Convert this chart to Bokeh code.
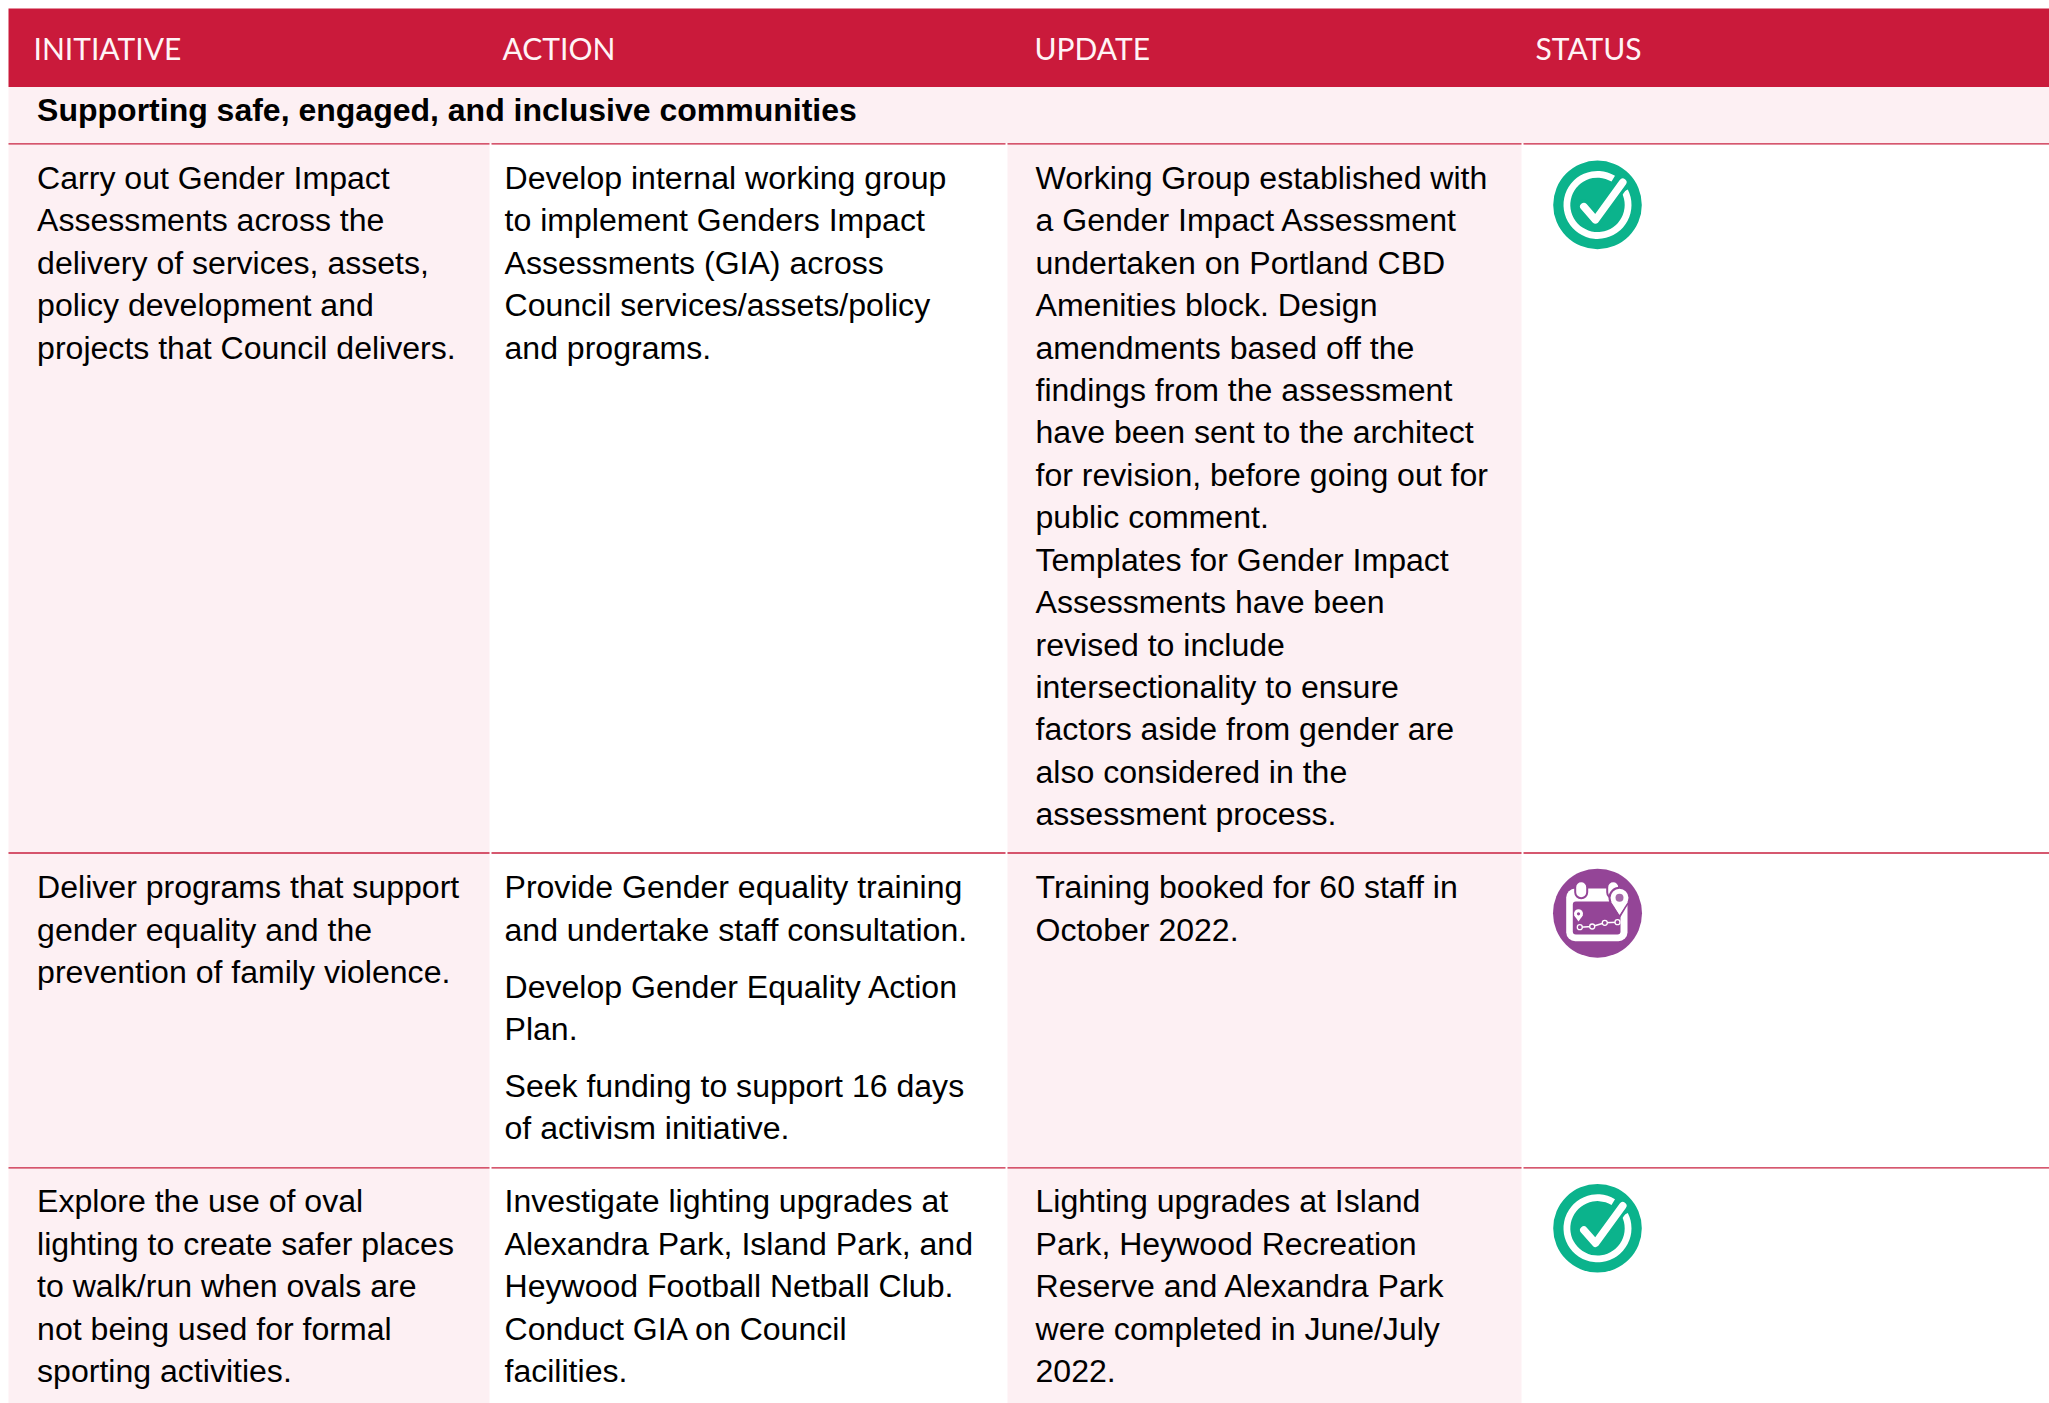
from bokeh.plotting import figure
from bokeh.models import Range1d
from bokeh.core.properties import value
from bokeh.embed import file_html
from bokeh.resources import INLINE

# ---- table content ----
headers = ["INITIATIVE", "ACTION", "UPDATE", "STATUS"]
section_title = "Supporting safe, engaged, and inclusive communities"

row1_initiative = ["Carry out Gender Impact", "Assessments across the", "delivery of services, assets,",
                   "policy development and", "projects that Council delivers."]
row1_action = ["Develop internal working group", "to implement Genders Impact",
               "Assessments (GIA) across", "Council services/assets/policy", "and programs."]
row1_update = ["Working Group established with", "a Gender Impact Assessment", "undertaken on Portland CBD",
               "Amenities block. Design", "amendments based off the", "findings from the assessment",
               "have been sent to the architect", "for revision, before going out for", "public comment.",
               "Templates for Gender Impact", "Assessments have been", "revised to include",
               "intersectionality to ensure", "factors aside from gender are", "also considered in the",
               "assessment process."]

row2_initiative = ["Deliver programs that support", "gender equality and the", "prevention of family violence."]
row2_action_p1 = ["Provide Gender equality training", "and undertake staff consultation."]
row2_action_p2 = ["Develop Gender Equality Action", "Plan."]
row2_action_p3 = ["Seek funding to support 16 days", "of activism initiative."]
row2_update = ["Training booked for 60 staff in", "October 2022."]

row3_initiative = ["Explore the use of oval", "lighting to create safer places", "to walk/run when ovals are",
                   "not being used for formal", "sporting activities."]
row3_action = ["Investigate lighting upgrades at", "Alexandra Park, Island Park, and",
               "Heywood Football Netball Club.", "Conduct GIA on Council", "facilities."]
row3_update = ["Lighting upgrades at Island", "Park, Heywood Recreation", "Reserve and Alexandra Park",
               "were completed in June/July", "2022."]

# ---- layout (page pixels) and styles ----
W, H = 2049, 1403
PINK, RED, RULE = "#FDF0F3", "#CA1A3B", "#C8203F"
GREEN, PURPLE = "#0BB38C", "#944597"
FONT = value("Liberation Sans")
SIZE = "32.05px"
PITCH = 42.43
DY = -10.6   # renderer's baseline correction
COL_L = [8, 491, 1007, 1523]
COL_R = [489, 1005, 1521, W]
HEAD_X = [33, 502, 1034, 1535]
TEXT_X = [36.6, 504, 1035]
RULE_Y = [143.3, 852.5, 1167.3]

p = figure(width=W, height=H, x_range=Range1d(0, W), y_range=Range1d(H, 0),
           output_backend="svg", toolbar_location=None, min_border=0)
p.axis.visible = False
p.grid.visible = False
p.outline_line_color = None
p.background_fill_color = "white"
p.border_fill_color = "white"

# fills
p.quad(left=[8], right=[W], top=[8], bottom=[86.5], fill_color=RED, line_color=None)
p.quad(left=[8], right=[W], top=[86.5], bottom=[143], fill_color=PINK, line_color=None)
p.quad(left=[8, 1007], right=[489, 1521], top=[143, 143], bottom=[H, H], fill_color=PINK, line_color=None)

# rules
for y in RULE_Y:
    p.segment(x0=COL_L, x1=COL_R, y0=[y] * 4, y1=[y] * 4, line_color=RULE, line_width=1.3)


def lines(strs, x, y0, pitch=PITCH):
    ys = [y0 + DY + i * pitch for i in range(len(strs))]
    p.text(x=[x] * len(strs), y=ys, text=strs, text_font=FONT, text_font_size=SIZE,
           text_color="#000000", text_baseline="alphabetic", text_align="left")


# header
p.text(x=HEAD_X, y=[58.5 + DY] * 4, text=headers, text_font=value("Lato"), text_font_size="30px",
       text_color="#FFF4F6", text_baseline="alphabetic", text_align="left")
# section
p.text(x=[36.6], y=[120 + DY], text=[section_title], text_font=FONT, text_font_size="32px",
       text_font_style="bold", text_color="#000000", text_baseline="alphabetic")

# row 1
lines(row1_initiative, TEXT_X[0], 188)
lines(row1_action, TEXT_X[1], 188)
lines(row1_update, TEXT_X[2], 188)
# row 2
lines(row2_initiative, TEXT_X[0], 897.3)
lines(row2_action_p1, TEXT_X[1], 897.3)
lines(row2_action_p2, TEXT_X[1], 996.7)
lines(row2_action_p3, TEXT_X[1], 1096)
lines(row2_update, TEXT_X[2], 897.3)
# row 3
lines(row3_initiative, TEXT_X[0], 1211.3, 42.55)
lines(row3_action, TEXT_X[1], 1211.3, 42.55)
lines(row3_update, TEXT_X[2], 1211.3, 42.55)


def check_icon(cx, cy):
    p.circle(x=[cx], y=[cy], radius=44.3, fill_color=GREEN, line_color=None)
    p.annular_wedge(x=[cx], y=[cy], inner_radius=27.2, outer_radius=34,
                    start_angle=0.47, end_angle=1.03, direction="clock",
                    fill_color="white", line_color=None)
    p.line(x=[cx - 13.7, cx - 2, cx + 25.3], y=[cy + 1.7, cy + 15, cy - 22.6], line_color=GREEN,
           line_width=14, line_cap="round", line_join="round")
    p.line(x=[cx - 13.7, cx - 2, cx + 25.3], y=[cy + 1.7, cy + 15, cy - 22.6], line_color="white",
           line_width=7.5, line_cap="round", line_join="round")


def calendar_icon(cx, cy):
    p.circle(x=[cx], y=[cy], radius=44.5, fill_color=PURPLE, line_color=None)
    p.quad(left=[cx - 31.3], right=[cx + 30], top=[cy - 24.7], bottom=[cy + 28], fill_color="white",
           line_color=None, border_radius=9)
    p.quad(left=[cx - 24.7], right=[cx + 23], top=[cy - 11.7], bottom=[cy + 21.3], fill_color=PURPLE,
           line_color=None, border_radius=3)
    # binder tabs
    for dx in (-16.3, 15.7):
        p.quad(left=[cx + dx - 6], right=[cx + dx + 6], top=[cy - 32], bottom=[cy - 15], fill_color="white",
               line_color=PURPLE, line_width=2, border_radius=6)
    # large pin
    px, py = cx + 22, cy - 15.4
    p.patch(x=[px - 9.5, px, px + 9.5], y=[py + 3, py + 19, py + 3], fill_color="white", line_color=PURPLE,
            line_width=2)
    p.circle(x=[px], y=[py], radius=10, fill_color="white", line_color=PURPLE, line_width=2)
    p.patch(x=[px - 8.5, px, px + 8.5], y=[py + 4, py + 17, py + 4], fill_color="white", line_color=None)
    p.circle(x=[px], y=[py], radius=4, fill_color="#A46AA8", line_color=None)
    # small pin
    qx, qy = cx - 19, cy + 0.6
    p.patch(x=[qx - 4.3, qx, qx + 4.3], y=[qy + 1.5, qy + 7.6, qy + 1.5], fill_color="white", line_color=None)
    p.circle(x=[qx], y=[qy], radius=4.5, fill_color="white", line_color=None)
    p.circle(x=[qx], y=[qy], radius=1.6, fill_color=PURPLE, line_color=None)
    # route
    rx = [cx - 17.7, cx - 5.3, cx + 7.3, cx + 20]
    ry = [cy + 14, cy + 13.3, cy + 9.6, cy + 9]
    p.line(x=rx, y=ry, line_color="white", line_width=1.5)
    p.scatter(x=rx, y=ry, marker="circle", size=5, fill_color=PURPLE, line_color="white", line_width=1.3)


check_icon(1597, 204.4)
calendar_icon(1597, 912.7)
check_icon(1597, 1227.8)

open("out.html", "w").write(file_html(p, INLINE))
